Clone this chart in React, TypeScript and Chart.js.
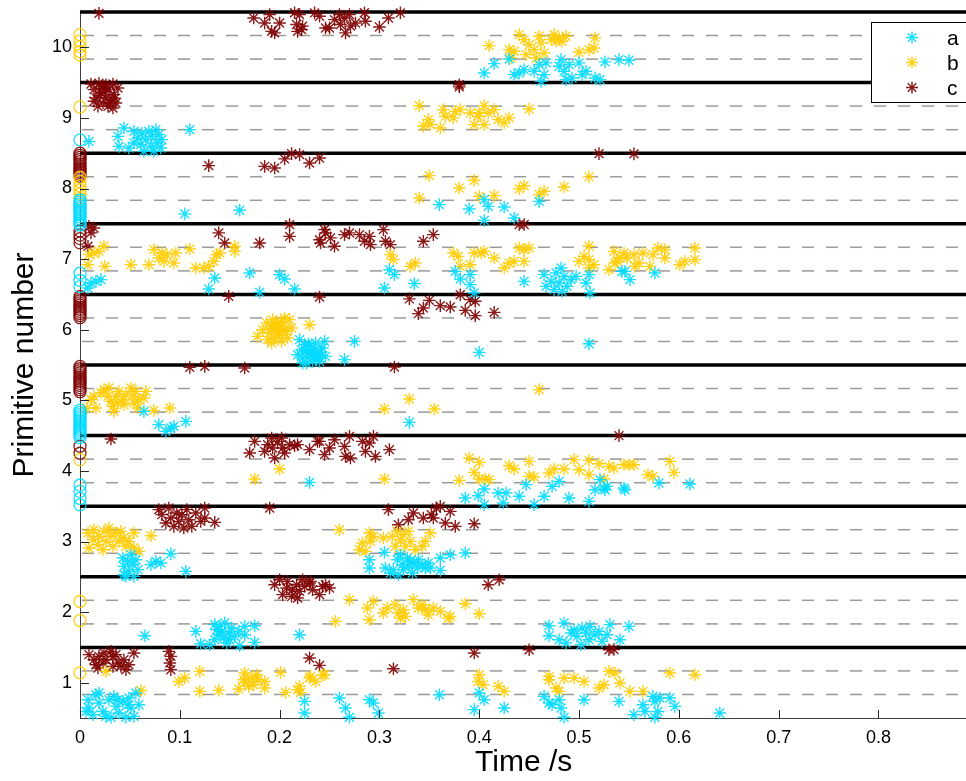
import React, { useEffect, useRef } from 'react';
import { Chart, registerables } from 'chart.js';

Chart.register(...registerables);

const FONT = '"Liberation Sans", Arial, Helvetica, sans-serif';

const xTicks = [0, 0.1, 0.2, 0.3, 0.4, 0.5, 0.6, 0.7, 0.8];
const yTicks = [1, 2, 3, 4, 5, 6, 7, 8, 9, 10];
const boundaryLevels = [1.5, 2.5, 3.5, 4.5, 5.5, 6.5, 7.5, 8.5, 9.5, 10.5];
const dashedLevels = [
  0.833, 1.167, 1.833, 2.167, 2.833, 3.167, 3.833, 4.167, 4.833, 5.167,
  5.833, 6.167, 6.833, 7.167, 7.833, 8.167, 8.833, 9.167, 9.833, 10.167,
];
const seriesNames = ['a', 'b', 'c'];

const seriesA: number[][] = [
  [.008,.759],[.009,.642],[.013,.547],[.016,.830],[.019,.712],[.023,.593],[.026,.523],[.029,.759],[.034,.806],[.036,.664],[.039,.571],[.043,.735],[.046,.51],[.049,.783],[.051,.642],[.054,.523],[.056,.854],[.059,.688],[.031,.51],[.019,.854],[.006,.593],[.048,.688],[.038,.759],
  [.225,.735],[.225,.571],[.260,.783],[.266,.642],[.270,.51],[.290,.759],[.294,.712],[.299,.571],[.360,.830],[.395,.618],[.400,.854],[.405,.759],[.425,.642],[.465,.806],[.470,.712],[.473,.688],[.480,.759],[.482,.642],[.485,.51],[.505,.759],[.540,.735],
  [.555,.547],[.564,.688],[.566,.593],[.574,.806],[.576,.735],[.576,.51],[.579,.593],[.581,.783],[.591,.783],[.596,.664],[.641,.571],
  [.065,1.666],[.116,1.727],[.121,1.552],[.130,1.538],[.135,1.822],[.137,1.751],[.139,1.68],[.140,1.798],[.142,1.727],[.144,1.633],[.145,1.846],[.147,1.562],[.149,1.704],[.152,1.775],[.155,1.656],[.159,1.727],[.160,1.524],[.165,1.798],[.165,1.68],[.175,1.807],[.175,1.571],[.135,1.609],[.150,1.609],[.220,1.68],
  [.470,1.807],[.470,1.666],[.480,1.609],[.485,1.846],[.487,1.562],[.492,1.704],[.495,1.751],[.498,1.656],[.502,1.538],[.503,1.775],[.507,1.704],[.510,1.609],[.511,1.798],[.516,1.68],[.520,1.727],[.523,1.585],[.528,1.68],[.531,1.822],[.541,1.609],[.550,1.798],
  [.043,2.766],[.044,2.648],[.044,2.53],[.048,2.719],[.049,2.577],[.051,2.813],[.053,2.672],[.054,2.506],[.056,2.742],[.058,2.601],[.046,2.51],[.071,2.672],[.076,2.719],[.081,2.696],[.091,2.827],[.106,2.577],
  [.290,2.742],[.290,2.625],[.305,2.846],[.306,2.625],[.311,2.554],[.314,2.601],[.318,2.742],[.319,2.53],[.321,2.813],[.323,2.672],[.324,2.601],[.328,2.766],[.329,2.648],[.331,2.719],[.333,2.554],[.334,2.696],[.338,2.625],[.339,2.742],[.343,2.672],[.346,2.625],[.349,2.696],[.351,2.625],[.361,2.766],[.361,2.591],[.371,2.813],[.386,2.837],
  [.230,3.838],[.386,3.616],[.399,3.649],[.405,3.744],[.405,3.522],[.419,3.687],[.424,3.546],[.427,3.687],[.440,3.64],[.447,3.805],[.455,3.522],[.465,3.64],[.473,3.781],[.480,3.852],[.490,3.616],[.510,3.569],[.516,3.734],[.521,3.876],[.525,3.758],[.528,3.781],[.526,3.734],[.545,3.758],[.546,3.734],[.580,3.829],[.611,3.815],
  [.064,4.843],[.079,4.655],[.086,4.56],[.091,4.608],[.094,4.631],[.106,4.702],[.330,4.687],
  [.220,5.859],[.222,5.717],[.223,5.6],[.225,5.788],[.227,5.529],[.228,5.671],[.230,5.764],[.231,5.622],[.233,5.552],[.235,5.717],[.236,5.812],[.238,5.646],[.240,5.552],[.243,5.741],[.246,5.622],[.240,5.6],[.245,5.835],[.218,5.646],[.223,5.529],[.275,5.835],[.265,5.576],[.400,5.679],[.510,5.802],
  [.226,5.69],[.232,5.70],[.237,5.58],[.229,5.80],[.241,5.68],[.234,5.63],
  [.008,6.591],[.011,6.662],[.016,6.685],[.021,6.709],[.135,6.733],[.129,6.577],[.170,6.804],[.180,6.529],[.200,6.78],[.205,6.719],[.215,6.577],
  [.305,6.591],[.310,6.85],[.315,6.78],[.335,6.652],[.376,6.826],[.381,6.719],[.391,6.78],[.391,6.638],[.395,6.52],[.445,6.685],[.465,6.78],[.467,6.614],[.472,6.685],[.475,6.567],[.477,6.804],[.480,6.662],[.482,6.875],[.483,6.543],[.485,6.756],[.488,6.614],[.492,6.709],[.497,6.756],[.507,6.662],[.510,6.78],[.511,6.52],[.543,6.826],[.546,6.826],[.551,6.709],[.576,6.804],
  [.105,7.64],[.160,7.691],[.360,7.771],[.390,7.71],[.405,7.842],[.405,7.549],[.409,7.747],[.425,7.739],[.435,7.583],[.460,7.818],
  [.038,8.739],[.039,8.597],[.044,8.858],[.049,8.574],[.054,8.81],[.054,8.645],[.058,8.716],[.061,8.621],[.062,8.787],[.064,8.527],[.066,8.692],[.069,8.81],[.071,8.597],[.072,8.739],[.074,8.527],[.076,8.834],[.077,8.645],[.079,8.763],[.081,8.574],[.082,8.692],[.009,8.668],[.110,8.834],
  [.405,9.637],[.415,9.769],[.430,9.835],[.435,9.613],[.440,9.637],[.445,9.684],[.455,9.66],[.460,9.755],[.462,9.518],[.465,9.613],[.467,9.779],[.480,9.731],[.482,9.826],[.485,9.66],[.487,9.542],[.490,9.755],[.493,9.566],[.500,9.779],[.503,9.613],[.507,9.66],[.516,9.566],[.521,9.542],[.526,9.793],[.540,9.826],[.550,9.816],
];

const seriesB: number[][] = [
  [.026,1.16],[.061,.89],[.099,1.018],[.105,1.067],[.120,1.16],[.120,.877],[.139,.891],[.159,.911],[.165,1.137],[.165,1.004],[.169,.948],[.172,1.067],[.174,.972],[.177,1.113],[.178,1.042],[.185,1.018],[.185,.925],[.201,1.146],[.206,.863],[.220,.948],[.221,.863],[.231,1.09],[.236,1.018],[.243,1.113],[.164,1.042],[.218,.90],[.230,1.067],[.245,1.113],
  [.400,1.113],[.399,1.018],[.404,.972],[.419,.948],[.425,.877],[.470,1.09],[.470,1.042],[.477,.925],[.480,.877],[.485,1.067],[.495,1.067],[.505,1.018],[.520,.925],[.525,.972],[.530,1.16],[.536,1.137],[.541,.996],[.551,.877],[.564,.877],[.591,1.137],[.616,1.113],
  [.256,1.868],[.270,2.176],[.288,2.058],[.290,1.892],[.294,2.152],[.304,1.987],[.308,2.058],[.316,2.105],[.319,1.987],[.321,1.917],[.324,2.034],[.326,1.939],[.334,2.176],[.339,2.058],[.343,2.105],[.346,2.034],[.349,1.963],[.354,2.058],[.361,2.01],[.369,1.917],[.386,2.119],[.400,1.977],[.371,1.939],
  [.008,3.121],[.009,2.908],[.013,3.026],[.014,3.167],[.018,2.955],[.019,3.073],[.023,2.884],[.024,3.143],[.026,3.002],[.029,3.191],[.031,3.073],[.033,2.931],[.036,3.121],[.039,3.002],[.041,3.143],[.044,3.049],[.046,2.931],[.049,3.002],[.054,3.121],[.054,2.908],[.059,2.86],[.071,3.082],
  [.260,3.167],[.280,2.884],[.283,2.979],[.286,2.86],[.290,3.121],[.291,3.002],[.294,3.073],[.304,3.049],[.313,3.073],[.316,2.931],[.318,3.143],[.321,3.026],[.324,3.097],[.326,2.931],[.329,3.143],[.331,3.002],[.336,2.884],[.343,2.931],[.346,3.002],[.351,3.121],
  [.200,4.027],[.175,3.886],[.305,3.886],[.380,3.866],[.390,4.183],[.395,3.979],[.400,4.121],[.400,3.886],[.406,3.886],[.410,3.876],[.430,4.074],[.435,4.027],[.450,4.135],[.450,3.922],[.455,3.914],[.470,3.971],[.475,4.027],[.485,4.027],[.495,4.159],[.500,4.017],[.510,4.149],[.510,3.947],[.520,4.102],[.525,3.886],[.530,4.064],[.535,4.041],[.545,4.088],[.550,4.088],[.555,4.088],[.569,3.947],[.574,3.922],[.591,4.135],[.595,3.979],
  [.007,4.891],[.011,5.009],[.014,5.056],[.016,4.891],[.021,5.104],[.024,5.151],[.028,5.056],[.029,5.175],[.031,4.985],[.033,4.914],[.034,4.843],[.036,5.056],[.038,4.962],[.039,5.127],[.043,5.009],[.044,4.938],[.046,5.08],[.051,5.175],[.053,5.056],[.054,4.962],[.056,5.127],[.058,4.891],[.059,5.009],[.066,5.127],[.074,4.857],[.090,4.891],[.064,5.033],
  [.330,5.019],[.305,4.877],[.355,4.877],[.460,5.151],
  [.178,5.906],[.183,6.0],[.187,6.096],[.188,5.859],[.190,5.954],[.192,6.047],[.193,6.142],[.195,5.883],[.197,6.0],[.198,6.096],[.200,5.93],[.202,5.835],[.203,6.047],[.205,6.166],[.207,5.977],[.208,5.883],[.210,6.142],[.212,6.025],[.230,6.071],[.192,5.812],
  [.194,6.02],[.199,5.97],[.204,5.99],[.196,6.07],[.201,6.11],
  [.008,6.921],[.009,7.063],[.014,7.087],[.019,7.11],[.024,7.181],[.025,6.897],[.051,6.921],[.069,6.921],[.074,7.134],[.079,7.016],[.082,7.087],[.084,6.968],[.087,7.063],[.094,6.945],[.096,7.087],[.110,7.144],[.116,6.875],[.124,6.875],[.129,6.897],[.134,6.968],[.137,7.063],[.140,7.087],[.155,7.11],[.155,7.181],
  [.311,7.063],[.314,6.992],[.331,6.897],[.336,6.945],[.374,7.087],[.379,7.039],[.381,6.897],[.391,6.921],[.395,7.087],[.402,7.087],[.405,7.11],[.415,7.016],[.425,6.875],[.430,6.945],[.435,6.968],[.440,7.158],[.445,7.134],[.450,7.158],[.445,6.968],[.500,6.968],[.505,7.039],[.510,7.181],[.510,6.875],[.515,6.921],[.530,6.85],[.535,7.11],[.536,6.945],[.541,7.016],
  [.510,6.992],[.538,6.968],[.545,7.087],[.548,7.016],[.555,7.063],[.556,6.897],[.560,6.945],[.564,7.087],[.571,6.897],[.574,7.063],[.579,7.158],[.586,7.016],[.586,7.134],[.601,6.921],[.606,6.968],[.616,7.158],[.616,6.992],
  [.340,7.866],[.350,8.182],[.380,8.008],[.395,8.116],[.400,7.889],[.415,7.899],[.440,7.994],[.445,8.04],[.460,7.913],[.465,7.96],[.485,8.022],[.510,8.164],
  [.340,9.174],[.344,8.881],[.349,8.976],[.351,8.905],[.361,8.858],[.364,9.117],[.366,9.022],[.374,9.0],[.376,9.093],[.381,9.117],[.391,9.07],[.395,8.905],[.399,9.022],[.405,9.174],[.405,8.905],[.409,9.07],[.415,9.117],[.419,8.976],[.425,8.929],[.430,9.0],[.450,9.127],[.400,9.07],
  [.410,10.024],[.430,9.967],[.435,9.943],[.432,9.849],[.440,10.18],[.445,10.109],[.447,9.896],[.450,10.038],[.455,9.967],[.457,9.849],[.460,10.156],[.462,10.062],[.465,9.92],[.472,10.109],[.475,10.18],[.477,10.086],[.480,10.133],[.483,10.086],[.487,10.156],[.500,9.929],[.510,9.967],[.515,9.991],[.516,10.133],
];

const seriesC: number[][] = [
  [.009,1.397],[.014,1.326],[.016,1.255],[.019,1.373],[.023,1.279],[.026,1.326],[.031,1.443],[.033,1.373],[.036,1.397],[.038,1.279],[.041,1.231],[.044,1.326],[.046,1.184],[.049,1.255],[.054,1.421],[.033,1.231],[.024,1.421],[.018,1.208],[.089,1.443],[.091,1.373],[.090,1.279],[.091,1.184],
  [.230,1.35],[.240,1.245],[.314,1.198],[.395,1.42],[.450,1.467],[.530,1.467],[.535,1.47],
  [.195,2.388],[.200,2.459],[.203,2.247],[.207,2.342],[.208,2.435],[.212,2.222],[.213,2.317],[.217,2.388],[.218,2.2],[.220,2.293],[.223,2.459],[.225,2.364],[.230,2.412],[.233,2.317],[.240,2.247],[.243,2.364],[.231,2.435],[.246,2.388],[.250,2.342],[.409,2.388],[.420,2.459],
  [.079,3.451],[.082,3.38],[.086,3.262],[.089,3.475],[.091,3.333],[.094,3.214],[.097,3.404],[.099,3.285],[.102,3.38],[.104,3.191],[.107,3.451],[.109,3.309],[.112,3.214],[.116,3.404],[.121,3.285],[.125,3.475],[.125,3.333],[.135,3.271],[.190,3.475],
  [.309,3.451],[.319,3.238],[.329,3.309],[.334,3.404],[.344,3.333],[.352,3.38],[.354,3.333],[.357,3.475],[.361,3.497],[.366,3.262],[.371,3.427],[.376,3.214],[.395,3.252],
  [.031,4.452],[.170,4.254],[.175,4.418],[.185,4.277],[.188,4.372],[.192,4.466],[.193,4.325],[.195,4.183],[.198,4.418],[.202,4.466],[.203,4.325],[.205,4.254],[.210,4.372],[.215,4.357],[.230,4.301],[.240,4.418],[.245,4.23],
  [.218,4.372],[.238,4.418],[.250,4.325],[.255,4.442],[.265,4.347],[.266,4.206],[.270,4.489],[.271,4.183],[.283,4.418],[.286,4.277],[.290,4.395],[.294,4.489],[.296,4.206],[.310,4.301],[.540,4.499],
  [.110,5.467],[.125,5.481],[.165,5.458],[.315,5.472],
  [.149,6.472],[.240,6.464],[.330,6.436],[.339,6.227],[.344,6.308],[.350,6.416],[.361,6.341],[.371,6.322],[.381,6.496],[.386,6.274],[.391,6.426],[.396,6.402],[.396,6.199],[.415,6.246],
  [.009,7.464],[.011,7.371],[.008,7.181],[.014,7.441],[.139,7.371],[.145,7.229],[.180,7.229],[.210,7.488],[.210,7.322],[.241,7.229],[.245,7.417],[.246,7.371],[.240,7.275],[.251,7.3],[.255,7.181],[.265,7.346],[.270,7.371],[.280,7.346],[.285,7.252],[.290,7.322],[.291,7.205],[.304,7.417],[.306,7.252],[.311,7.205],[.344,7.252],[.354,7.346],[.440,7.488],[.445,7.49],
  [.129,8.324],[.185,8.314],[.195,8.291],[.205,8.419],[.212,8.494],[.220,8.48],[.230,8.362],[.240,8.433],[.520,8.494],[.555,8.49],
  [.011,9.48],[.014,9.40],[.016,9.283],[.019,9.49],[.021,9.353],[.023,9.212],[.024,9.447],[.026,9.283],[.028,9.164],[.029,9.40],[.031,9.259],[.033,9.48],[.034,9.33],[.036,9.212],[.038,9.424],[.014,9.235],[.018,9.164],[.026,9.47],[.033,9.141],[.380,9.439],[.380,9.47],
  [.020,9.32],[.025,9.37],[.030,9.22],[.022,9.42],[.035,9.28],
  [.019,10.48],[.174,10.416],[.185,10.345],[.190,10.463],[.192,10.226],[.195,10.204],[.200,10.345],[.215,10.49],[.217,10.322],[.218,10.226],[.220,10.463],[.223,10.30],[.235,10.487],[.240,10.44],[.246,10.274],[.222,10.25],[.250,10.274],[.255,10.392],[.260,10.463],[.261,10.322],[.265,10.416],[.266,10.204],[.270,10.463],[.271,10.30],[.276,10.345],[.285,10.49],[.286,10.369],[.300,10.288],[.309,10.416],[.321,10.487],
];

// start markers (time 0)
const startA = [3.52, 3.61, 3.71, 3.80, 4.47, 4.50, 4.53, 4.56, 4.59, 4.62, 4.65, 4.68, 4.71, 4.74, 4.77, 4.80, 4.83, 4.86, 6.61, 6.70, 6.80, 7.48, 7.51, 7.54, 7.57, 7.60, 7.63, 7.66, 7.69, 7.72, 7.75, 7.78, 7.81, 7.84, 8.69];
const startB = [1.14, 1.88, 2.15, 4.16, 7.86, 7.92, 7.98, 8.04, 8.10, 8.16, 9.155, 9.89, 9.94, 10.01, 10.09, 10.18];
const startC = [4.25, 4.35, 5.12, 5.15, 5.18, 5.21, 5.24, 5.27, 5.30, 5.33, 5.36, 5.39, 5.42, 5.45, 5.48, 6.17, 6.20, 6.23, 6.26, 6.29, 6.32, 6.35, 6.38, 6.41, 6.44, 6.47, 7.23, 7.29, 7.34, 7.40, 8.17, 8.20, 8.23, 8.26, 8.29, 8.32, 8.35, 8.38, 8.41, 8.44, 8.47, 8.50];

const CYAN = 'rgba(0,218,255,0.9)';
const GOLD = 'rgba(255,204,0,0.9)';
const BROWN = 'rgba(128,0,0,0.9)';
const seriesColors = [CYAN, GOLD, BROWN];

const guidesPlugin = {
  id: 'guides',
  beforeDatasetsDraw(chart: any) {
    const { ctx, chartArea, scales } = chart;
    const y = scales.y;
    ctx.save();
    ctx.beginPath();
    ctx.rect(chartArea.left, 0, chartArea.right - chartArea.left, chart.height);
    ctx.clip();
    ctx.strokeStyle = '#999999';
    ctx.lineWidth = 1.5;
    ctx.setLineDash([12, 12]);
    ctx.lineDashOffset = -2;
    dashedLevels.forEach((v) => {
      const py = y.getPixelForValue(v);
      ctx.beginPath();
      ctx.moveTo(chartArea.left, py);
      ctx.lineTo(chartArea.right, py);
      ctx.stroke();
    });
    ctx.setLineDash([]);
    ctx.strokeStyle = '#000000';
    ctx.lineWidth = 3.5;
    boundaryLevels.forEach((v) => {
      const py = y.getPixelForValue(v);
      ctx.beginPath();
      ctx.moveTo(chartArea.left, py);
      ctx.lineTo(chartArea.right, py);
      ctx.stroke();
    });
    ctx.restore();
  },
  afterDatasetsDraw(chart: any) {
    const { ctx, chartArea, scales } = chart;
    ctx.save();
    ctx.strokeStyle = '#262626';
    ctx.lineWidth = 1;
    yTicks.forEach((v) => {
      const py = Math.round(scales.y.getPixelForValue(v)) + 0.5;
      ctx.beginPath();
      ctx.moveTo(chartArea.left, py);
      ctx.lineTo(chartArea.left + 9, py);
      ctx.stroke();
    });
    xTicks.forEach((v) => {
      const px = Math.round(scales.x.getPixelForValue(v)) + 0.5;
      ctx.beginPath();
      ctx.moveTo(px, chartArea.bottom);
      ctx.lineTo(px, chartArea.bottom - 8);
      ctx.stroke();
    });
    ctx.restore();
  },
  afterDraw(chart: any) {
    const { ctx } = chart;
    ctx.save();
    const left = 871.5, top = 22.5, h = 80;
    ctx.fillStyle = '#ffffff';
    ctx.fillRect(left, top, 200, h);
    ctx.strokeStyle = '#000000';
    ctx.lineWidth = 1;
    ctx.strokeRect(left, top, 200, h);
    seriesNames.forEach((name, i) => {
      const cy = 37.5 + i * 25;
      const cx = 912;
      const r = 6;
      ctx.strokeStyle = seriesColors[i];
      ctx.lineWidth = 1.4;
      ctx.beginPath();
      ctx.moveTo(cx - r, cy); ctx.lineTo(cx + r, cy);
      ctx.moveTo(cx, cy - r); ctx.lineTo(cx, cy + r);
      const d = r * Math.SQRT1_2;
      ctx.moveTo(cx - d, cy - d); ctx.lineTo(cx + d, cy + d);
      ctx.moveTo(cx - d, cy + d); ctx.lineTo(cx + d, cy - d);
      ctx.stroke();
      ctx.fillStyle = '#000000';
      ctx.font = `21px ${FONT}`;
      ctx.textAlign = 'left';
      ctx.textBaseline = 'alphabetic';
      ctx.fillText(name, 947, cy + 7);
    });
    ctx.restore();
  },
};

const starSet = (label: string, pts: number[][], color: string, order: number) => ({
  label,
  data: pts.map(([x, y]) => ({ x, y })),
  pointStyle: 'star',
  pointRadius: 6.3,
  pointBorderWidth: 1.4,
  borderColor: color,
  backgroundColor: color,
  pointBorderColor: color,
  showLine: false,
  order,
  clip: false as any,
});

const circleSet = (label: string, ys: number[], color: string, order: number) => ({
  label,
  data: ys.map((y) => ({ x: 0, y })),
  pointStyle: 'circle',
  pointRadius: 6,
  pointBorderWidth: 1.3,
  borderColor: color,
  pointBorderColor: color,
  backgroundColor: 'rgba(0,0,0,0)',
  pointBackgroundColor: 'rgba(0,0,0,0)',
  showLine: false,
  order,
  clip: false as any,
});

export default function App() {
  const ref = useRef<HTMLCanvasElement | null>(null);
  useEffect(() => {
    if (!ref.current) return;
    const chart = new Chart(ref.current, {
      type: 'scatter',
      data: {
        datasets: [
          circleSet('a0', startA, CYAN, 1),
          circleSet('b0', startB, GOLD, 2),
          circleSet('c0', startC, BROWN, 3),
          starSet('a', seriesA, CYAN, 4),
          starSet('b', seriesB, GOLD, 5),
          starSet('c', seriesC, BROWN, 6),
        ] as any,
      },
      options: {
        responsive: false,
        animation: false,
        devicePixelRatio: 1,
        events: [],
        layout: { padding: { top: 12, left: 0, right: 0, bottom: 0 } },
        plugins: { legend: { display: false }, tooltip: { enabled: false } },
        scales: {
          x: {
            type: 'linear',
            min: 0,
            max: 0.889,
            afterBuildTicks: (s: any) => { s.ticks = xTicks.map((v) => ({ value: v })); },
            afterFit: (s: any) => {
              s.height = 63;
              s.paddingLeft = 0; s.paddingRight = 0; s.paddingTop = 0; s.paddingBottom = 0;
            },
            grid: { display: false, drawTicks: false },
            border: { display: true, color: '#404040', width: 1 },
            ticks: {
              padding: 9,
              color: '#000000',
              font: { family: FONT, size: 18 },
              autoSkip: false,
              maxRotation: 0,
              callback: (v: any) => String(Number(v)),
            },
            title: {
              display: true,
              text: 'Time /s',
              color: '#000000',
              font: { family: FONT, size: 30 },
              padding: { top: 0, bottom: 0 },
            },
          },
          y: {
            type: 'linear',
            min: 0.5,
            max: 10.5,
            afterBuildTicks: (s: any) => { s.ticks = yTicks.map((v) => ({ value: v })); },
            afterFit: (s: any) => {
              s.width = 80;
              s.paddingLeft = 0; s.paddingRight = 0; s.paddingTop = 0; s.paddingBottom = 0;
            },
            grid: { display: false, drawTicks: false },
            border: { display: true, color: '#404040', width: 1 },
            ticks: {
              padding: 8,
              color: '#000000',
              font: { family: FONT, size: 18 },
              autoSkip: false,
              callback: (v: any) => String(Number(v)),
            },
            title: {
              display: true,
              text: 'Primitive number',
              color: '#000000',
              font: { family: FONT, size: 30 },
              padding: { top: 7, bottom: 0 },
            },
          },
        },
      } as any,
      plugins: [guidesPlugin],
    });
    return () => chart.destroy();
  }, []);

  return (
    <div style={{ position: 'absolute', left: 0, top: 0, width: 966, height: 781, overflow: 'hidden', background: '#fff' }}>
      <canvas ref={ref} width={975} height={781} style={{ display: 'block' }} />
    </div>
  );
}
